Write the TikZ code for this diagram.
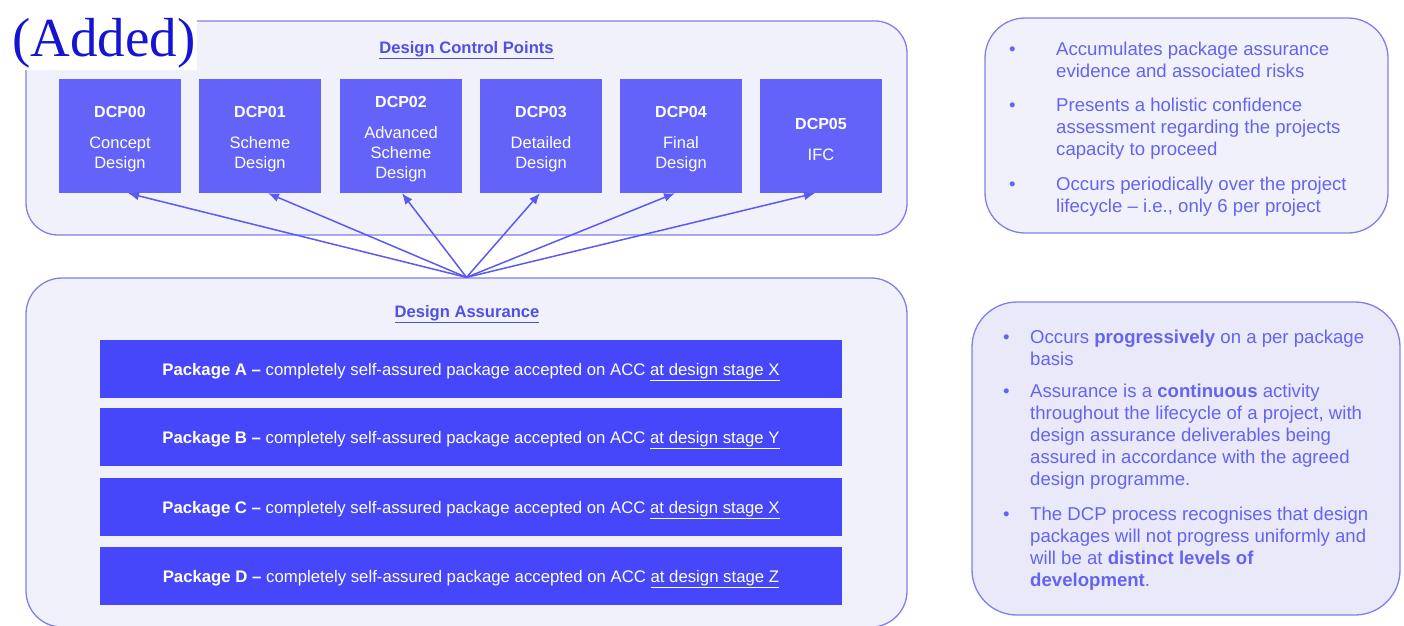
\documentclass[tikz,border=0pt]{standalone}
\usepackage{fontspec}
\setmainfont{Liberation Sans}
\newfontfamily\serifadd{Liberation Serif}
\usetikzlibrary{arrows.meta,calc}
\definecolor{dcpfill}{RGB}{99,99,249}
\definecolor{pkgfill}{RGB}{70,70,250}
\definecolor{titleblue}{RGB}{80,80,225}
\definecolor{txtblue}{RGB}{100,100,240}
\definecolor{boxline}{RGB}{128,128,236}
\definecolor{boxfill}{RGB}{241,241,252}
\definecolor{boxfill2}{RGB}{233,233,250}
\definecolor{arrowblue}{RGB}{90,90,240}
\definecolor{addblue}{RGB}{20,20,210}
\tikzset{
  container/.style={draw=boxline, line width=1.3pt, fill=boxfill, rounded corners=32pt, inner sep=0pt},
  dcpbox/.style={fill=dcpfill, minimum width=122pt, minimum height=114pt, inner sep=0pt},
  dcptext/.style={text=white, align=center, inner sep=0pt, yshift=-3pt, font=\fontsize{16.5}{20}\selectfont},
  pkgbar/.style={fill=pkgfill, minimum width=742pt, minimum height=58pt, inner sep=0pt, text=white, text height=16pt, text depth=3pt, font=\fontsize{16.75}{20}\selectfont},
  titletext/.style={text=titleblue, font=\bfseries\fontsize{16.6}{19}\selectfont, inner sep=0pt, anchor=base},
  bultext/.style={text=txtblue, font=\fontsize{18.6}{22.2}\selectfont, inner sep=0pt, anchor=base west},
  arr/.style={draw=arrowblue, line width=1.5pt, -{Latex[length=11pt,width=9pt]}}
}
\newcommand{\dcptitle}[1]{{\bfseries\fontsize{16}{20}\selectfont #1}}
\begin{document}
\begin{tikzpicture}[x=1pt,y=-1pt]
\useasboundingbox (0,0) rectangle (1404,625);
% containers
\node[container, minimum width=881pt, minimum height=214pt] (dcpc) at (466.5,128) {};
\node[container, minimum width=881pt, minimum height=349pt, rounded corners=36pt] (da) at (466.5,452.5) {};
\node[container, minimum width=403pt, minimum height=215pt, rounded corners=40pt] (rt) at (1186.5,125.5) {};
\node[container, fill=boxfill2, minimum width=428pt, minimum height=313pt, rounded corners=45pt] (rb) at (1186,458.5) {};
% added label
\node[fill=white, inner sep=2pt, anchor=base west, text=addblue, font=\serifadd\fontsize{55}{60}\selectfont] (added) at (10,56) {(Added)};
% titles
\node[titletext] (t1) at (466.5,53) {\underline{Design Control Points}};
\node[titletext] (t2) at (467,317) {\underline{Design Assurance}};
% DCP boxes
\node[dcpbox, label={[dcptext]center:{\dcptitle{DCP00}\\[11pt]Concept\\Design}}] (d0) at (120,136) {};
\node[dcpbox, label={[dcptext]center:{\dcptitle{DCP01}\\[11pt]Scheme\\Design}}] (d1) at (260,136) {};
\node[dcpbox, label={[dcptext]center:{\dcptitle{DCP02}\\[11pt]Advanced\\Scheme\\Design}}] (d2) at (401,136) {};
\node[dcpbox, label={[dcptext]center:{\dcptitle{DCP03}\\[11pt]Detailed\\Design}}] (d3) at (541,136) {};
\node[dcpbox, label={[dcptext]center:{\dcptitle{DCP04}\\[11pt]Final\\Design}}] (d4) at (681,136) {};
\node[dcpbox, label={[dcptext]center:{\dcptitle{DCP05}\\[11pt]IFC}}] (d5) at (821,136) {};
% arrows
\draw[arr] (da.north) -- ([xshift=8pt]d0.south);
\draw[arr] (da.north) -- ([xshift=8pt]d1.south);
\draw[arr] (da.north) -- ([xshift=1pt]d2.south);
\draw[arr] (da.north) -- ([xshift=-1pt]d3.south);
\draw[arr] (da.north) -- ([xshift=-6pt]d4.south);
\draw[arr] (da.north) -- ([xshift=-6pt]d5.south);
% package bars
\node[pkgbar] (pa) at (471,368.5) {\textbf{Package A –} completely self-assured package accepted on ACC \underline{at design stage X}};
\node[pkgbar] (pb) at (471,437) {\textbf{Package B –} completely self-assured package accepted on ACC \underline{at design stage Y}};
\node[pkgbar] (pc) at (471,507) {\textbf{Package C –} completely self-assured package accepted on ACC \underline{at design stage X}};
\node[pkgbar] (pd) at (471,576) {\textbf{Package D –} completely self-assured package accepted on ACC \underline{at design stage Z}};
% right top bullets
\node[bultext] (r1) at (1009,55) {\makebox[47pt][l]{•}\parbox[t]{340pt}{\raggedright Accumulates package assurance\\evidence and associated risks}};
\node[bultext] (r2) at (1009,111) {\makebox[47pt][l]{•}\parbox[t]{340pt}{\raggedright Presents a holistic confidence\\assessment regarding the projects\\capacity to proceed}};
\node[bultext] (r3) at (1009,190) {\makebox[47pt][l]{•}\parbox[t]{340pt}{\raggedright Occurs periodically over the project\\lifecycle – i.e., only 6 per project}};
% right bottom bullets
\node[bultext] (s1) at (1003,343) {\makebox[27pt][l]{•}\parbox[t]{380pt}{\raggedright Occurs \textbf{progressively} on a per package\\basis}};
\node[bultext] (s2) at (1003,397) {\makebox[27pt][l]{•}\parbox[t]{380pt}{\raggedright Assurance is a \textbf{continuous} activity\\throughout the lifecycle of a project, with\\design assurance deliverables being\\assured in accordance with the agreed\\design programme.}};
\node[bultext] (s3) at (1003,520) {\makebox[27pt][l]{•}\parbox[t]{380pt}{\raggedright The DCP process recognises that design\\packages will not progress uniformly and\\will be at \textbf{distinct levels of}\\\textbf{development}.}};
\end{tikzpicture}
\end{document}
